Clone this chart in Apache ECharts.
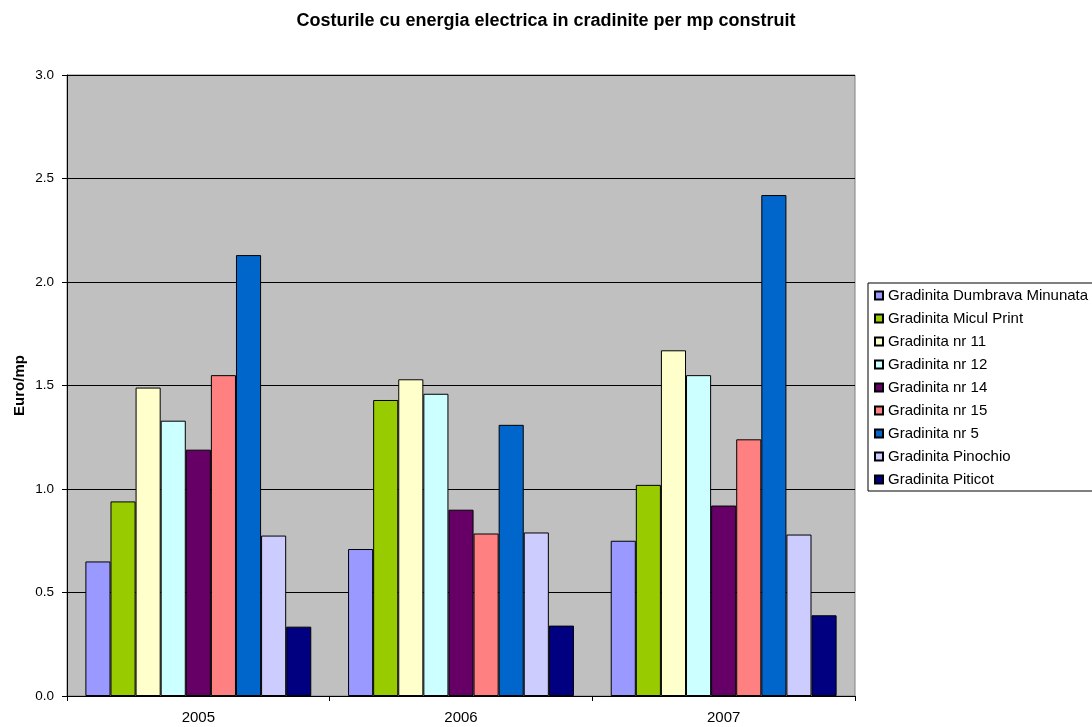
<!DOCTYPE html>
<html><head><meta charset="utf-8">
<script src="https://cdn.jsdelivr.net/npm/echarts@6/dist/echarts.min.js"></script>
<style>html,body{margin:0;padding:0;background:#fff}#c{width:1092px;height:727px}</style>
</head><body><div id="c"></div>
<script>
const years = ['2005', '2006', '2007'];
const seriesNames = ['Gradinita Dumbrava Minunata','Gradinita Micul Print','Gradinita nr 11','Gradinita nr 12','Gradinita nr 14','Gradinita nr 15','Gradinita nr 5','Gradinita Pinochio','Gradinita Piticot'];
const dumbrava = [0.65, 0.71, 0.75];
const miculPrint = [0.94, 1.43, 1.02];
const nr11 = [1.49, 1.53, 1.67];
const nr12 = [1.33, 1.46, 1.55];
const nr14 = [1.19, 0.90, 0.92];
const nr15 = [1.55, 0.785, 1.24];
const nr5 = [2.13, 1.31, 2.42];
const pinochio = [0.775, 0.79, 0.78];
const piticot = [0.335, 0.34, 0.39];
const colors = ['#9999ff','#99cc00','#ffffcc','#ccffff','#660066','#ff8080','#0066cc','#ccccff','#000080'];
const allData = [dumbrava, miculPrint, nr11, nr12, nr14, nr15, nr5, pinochio, piticot];

const chart = echarts.init(document.getElementById('c'), null, {renderer:'canvas'});
const font = 'Liberation Sans, Arial, sans-serif';
chart.setOption({
  animation: false,
  backgroundColor: '#fff',
  textStyle: {fontFamily: font},
  title: {
    text: 'Costurile cu energia electrica in cradinite per mp construit',
    left: 'center', top: 7,
    textStyle: {fontSize: 18, fontWeight: 'bold', color: '#000', fontFamily: font}
  },
  grid: {
    left: 67, right: 237, top: 75, bottom: 31,
    show: true, backgroundColor: '#c0c0c0', borderColor: '#808080', borderWidth: 1
  },
  legend: {
    orient: 'vertical',
    left: 868, top: 283,
    itemWidth: 8, itemHeight: 8, itemGap: 8,
    padding: [5, 12, 4, 6],
    borderColor: '#000', borderWidth: 1, backgroundColor: '#fff',
    icon: 'rect',
    textStyle: {fontSize: 15, color: '#000', fontFamily: font},
    data: seriesNames
  },
  xAxis: {
    type: 'category', data: years,
    axisLine: {lineStyle: {color: '#000', width: 1}},
    axisTick: {show: true, length: 5, lineStyle: {color: '#000'}},
    axisLabel: {fontSize: 15, color: '#000', margin: 14, fontFamily: font}
  },
  yAxis: {
    type: 'value', min: 0, max: 3, interval: 0.5,
    name: 'Euro/mp', nameLocation: 'middle', nameGap: 40, nameMoveOverlap: false,
    nameTextStyle: {fontSize: 15, fontWeight: 'bold', color: '#000', fontFamily: font},
    axisLine: {show: true, lineStyle: {color: '#000', width: 1}},
    axisTick: {show: true, length: 5, lineStyle: {color: '#000'}},
    axisLabel: {fontSize: 13.5, color: '#000', margin: 13, fontFamily: font, formatter: v => v.toFixed(1)},
    splitLine: {show: true, lineStyle: {color: '#000', width: 1}}
  },
  series: seriesNames.map((n, i) => ({
    name: n, type: 'bar', data: allData[i],
    barGap: '0%', barCategoryGap: '14%',
    itemStyle: {color: colors[i], borderColor: '#000', borderWidth: 1}
  }))
});
</script></body></html>
